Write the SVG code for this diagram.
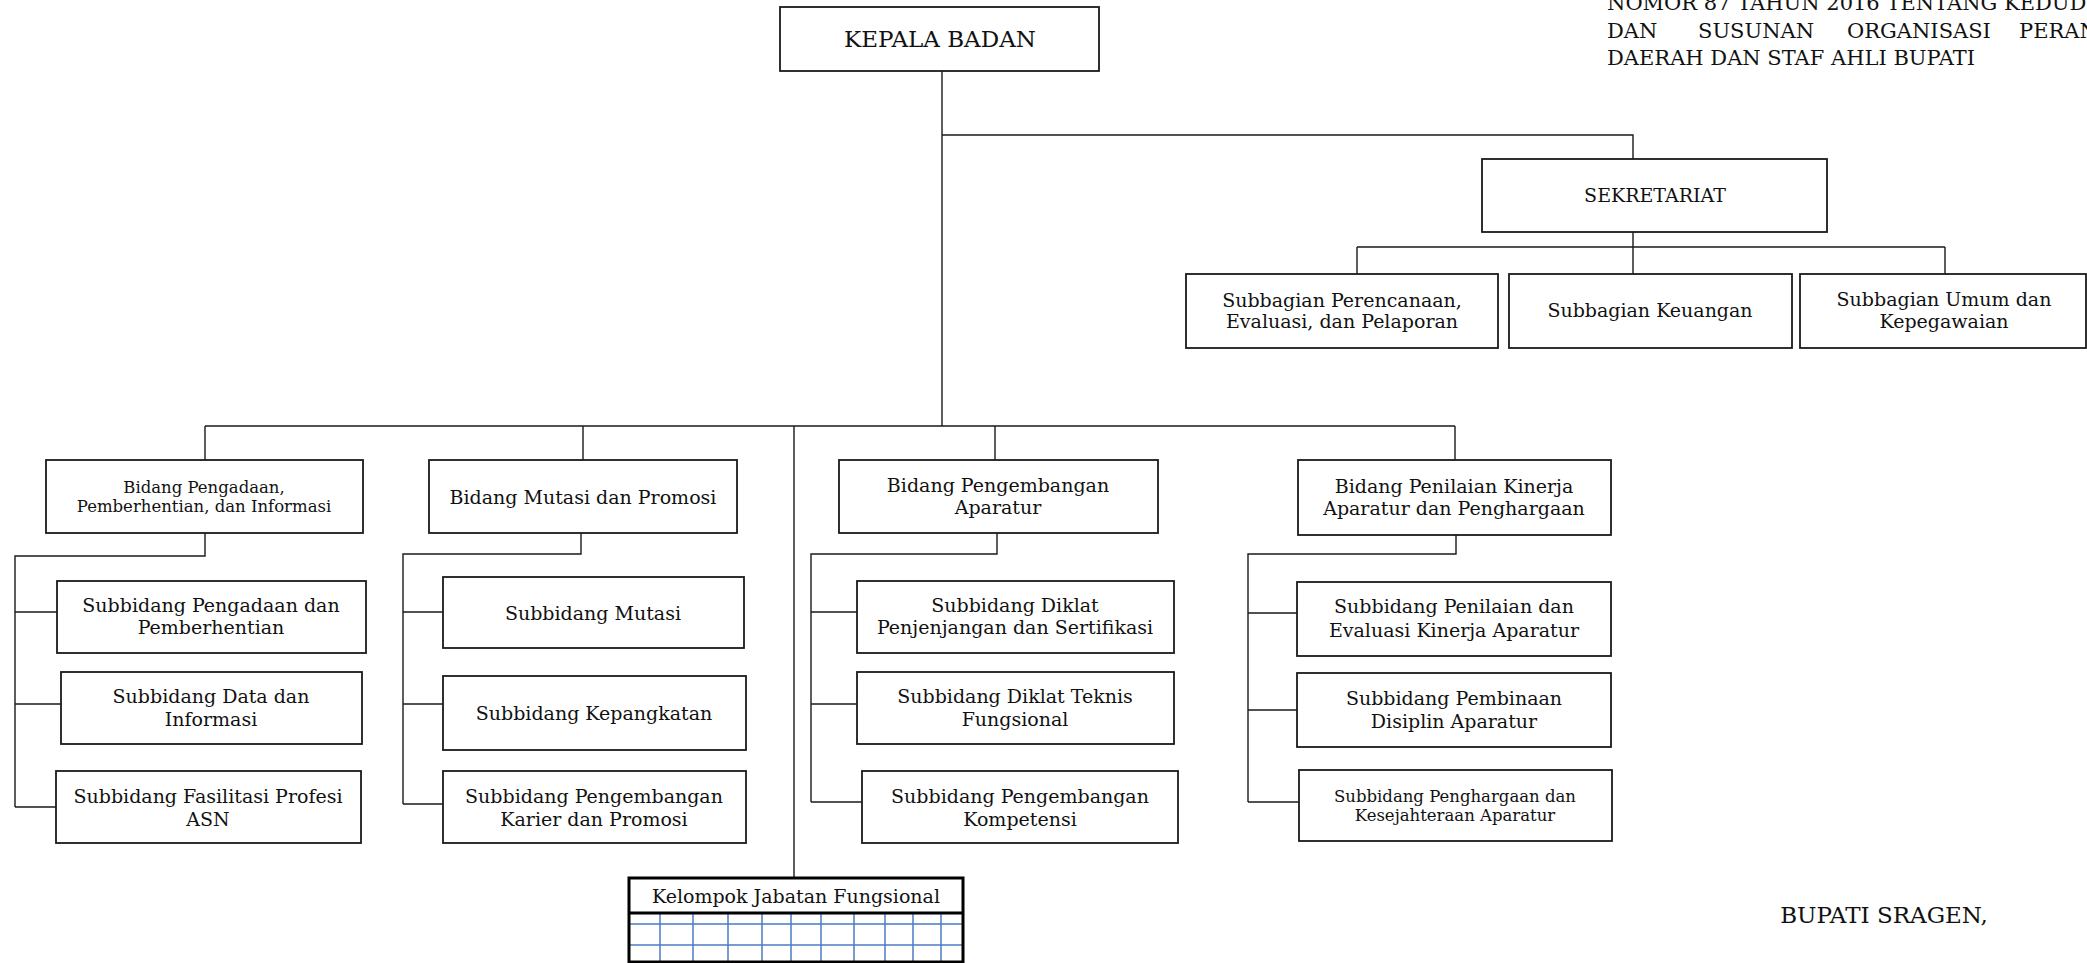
<svg xmlns="http://www.w3.org/2000/svg" width="2087" height="963" viewBox="0 0 2087 963">
<style>
.box{fill:#fff;stroke:#1a1a1a;stroke-width:1.8}
.ln{stroke:#1a1a1a;stroke-width:1.4;fill:none}
.t{font-family:"DejaVu Serif","Liberation Serif",serif;fill:#111;text-anchor:middle}
.s19{font-size:19px}
.s16{font-size:16.5px}
.hdr{font-family:"DejaVu Serif","Liberation Serif",serif;fill:#111;font-size:21px}
.grid{stroke:#4a7cc4;stroke-width:1.5}
.thick{fill:none;stroke:#000;stroke-width:3}
</style>
<rect width="2087" height="963" fill="#fff"/>

<g id="header-text">
<text class="hdr" x="1607" y="10">NOMOR 87 TAHUN 2016 TENTANG KEDUD</text>
<text class="hdr" x="1607" y="38">DAN</text>
<text class="hdr" x="1698" y="38">SUSUNAN</text>
<text class="hdr" x="1847" y="38">ORGANISASI</text>
<text class="hdr" x="2019" y="38">PERAN</text>
<text class="hdr" x="1607" y="65">DAERAH DAN STAF AHLI BUPATI</text>
</g>

<g id="connectors">
<path class="ln" d="M942 71V426M942 135H1633V159M1633 232V274M1357 247H1945M1357 247V274M1945 247V274"/>
<path class="ln" d="M205 426H1455M205 426V460M583 426V460M995 426V460M1455 426V460M794 426V878"/>
<path class="ln" d="M205 533V556H15V807M15 612H57M15 704H61M15 807H56"/>
<path class="ln" d="M581 533V554H403V804M403 612H443M403 704H443M403 804H443"/>
<path class="ln" d="M997 533V554H811V802M811 612H857M811 704H857M811 802H862"/>
<path class="ln" d="M1456 535V554H1248V802M1248 613H1297M1248 710H1297M1248 802H1299"/>
</g>

<g id="kepala">
<rect class="box" x="780" y="7" width="319" height="64"/>
<text class="t" x="940" y="47" font-size="23">KEPALA BADAN</text>
</g>

<g id="sekretariat">
<rect class="box" x="1482" y="159" width="345" height="73"/>
<text class="t" x="1655" y="202" font-size="19">SEKRETARIAT</text>
</g>

<g id="sub-perencanaan">
<rect class="box" x="1186" y="274" width="312" height="74"/>
<text class="t s19" x="1342" y="307">Subbagian Perencanaan,</text>
<text class="t s19" x="1342" y="328">Evaluasi, dan Pelaporan</text>
</g>
<g id="sub-keuangan">
<rect class="box" x="1509" y="274" width="283" height="74"/>
<text class="t s19" x="1650" y="317">Subbagian Keuangan</text>
</g>
<g id="sub-umum">
<rect class="box" x="1800" y="274" width="286" height="74"/>
<text class="t s19" x="1944" y="306">Subbagian Umum dan</text>
<text class="t s19" x="1944" y="328">Kepegawaian</text>
</g>

<g id="bidang-pengadaan">
<rect class="box" x="46" y="460" width="317" height="73"/>
<text class="t s16" x="204" y="493">Bidang Pengadaan,</text>
<text class="t s16" x="204" y="512">Pemberhentian, dan Informasi</text>
</g>
<g id="bidang-mutasi">
<rect class="box" x="429" y="460" width="308" height="73"/>
<text class="t s19" x="583" y="504">Bidang Mutasi dan Promosi</text>
</g>
<g id="bidang-pengembangan">
<rect class="box" x="839" y="460" width="319" height="73"/>
<text class="t s19" x="998" y="492">Bidang Pengembangan</text>
<text class="t s19" x="998" y="514">Aparatur</text>
</g>
<g id="bidang-penilaian">
<rect class="box" x="1298" y="460" width="313" height="75"/>
<text class="t s19" x="1454" y="493">Bidang Penilaian Kinerja</text>
<text class="t s19" x="1454" y="515">Aparatur dan Penghargaan</text>
</g>

<g id="sub-pengadaan">
<rect class="box" x="57" y="581" width="309" height="72"/>
<text class="t s19" x="211" y="612">Subbidang Pengadaan dan</text>
<text class="t s19" x="211" y="634">Pemberhentian</text>
</g>
<g id="sub-data">
<rect class="box" x="61" y="672" width="301" height="72"/>
<text class="t s19" x="211" y="703">Subbidang Data dan</text>
<text class="t s19" x="211" y="726">Informasi</text>
</g>
<g id="sub-fasilitasi">
<rect class="box" x="56" y="771" width="305" height="72"/>
<text class="t s19" x="208" y="803">Subbidang Fasilitasi Profesi</text>
<text class="t s19" x="208" y="826">ASN</text>
</g>

<g id="sub-mutasi">
<rect class="box" x="443" y="577" width="301" height="71"/>
<text class="t s19" x="593" y="620">Subbidang Mutasi</text>
</g>
<g id="sub-kepangkatan">
<rect class="box" x="443" y="676" width="303" height="74"/>
<text class="t s19" x="594" y="720">Subbidang Kepangkatan</text>
</g>
<g id="sub-karier">
<rect class="box" x="443" y="771" width="303" height="72"/>
<text class="t s19" x="594" y="803">Subbidang Pengembangan</text>
<text class="t s19" x="594" y="826">Karier dan Promosi</text>
</g>

<g id="sub-diklat-penjenjangan">
<rect class="box" x="857" y="581" width="317" height="72"/>
<text class="t s19" x="1015" y="612">Subbidang Diklat</text>
<text class="t s19" x="1015" y="634">Penjenjangan dan Sertifikasi</text>
</g>
<g id="sub-diklat-teknis">
<rect class="box" x="857" y="672" width="317" height="72"/>
<text class="t s19" x="1015" y="703">Subbidang Diklat Teknis</text>
<text class="t s19" x="1015" y="726">Fungsional</text>
</g>
<g id="sub-kompetensi">
<rect class="box" x="862" y="771" width="316" height="72"/>
<text class="t s19" x="1020" y="803">Subbidang Pengembangan</text>
<text class="t s19" x="1020" y="826">Kompetensi</text>
</g>

<g id="sub-penilaian">
<rect class="box" x="1297" y="582" width="314" height="74"/>
<text class="t s19" x="1454" y="613">Subbidang Penilaian dan</text>
<text class="t s19" x="1454" y="637">Evaluasi Kinerja Aparatur</text>
</g>
<g id="sub-pembinaan">
<rect class="box" x="1297" y="673" width="314" height="74"/>
<text class="t s19" x="1454" y="705">Subbidang Pembinaan</text>
<text class="t s19" x="1454" y="728">Disiplin Aparatur</text>
</g>
<g id="sub-penghargaan">
<rect class="box" x="1299" y="770" width="313" height="71"/>
<text class="t s16" x="1455" y="802">Subbidang Penghargaan dan</text>
<text class="t s16" x="1455" y="821">Kesejahteraan Aparatur</text>
</g>

<g id="kelompok-jabatan">
<rect x="629" y="878" width="334" height="84" fill="#fff"/>
<path class="grid" d="M629 924H963M629 945H963M660 913V962M693 913V962M728 913V962M762 913V962M791 913V962M821 913V962M854 913V962M885 913V962M913 913V962M941 913V962"/>
<rect class="thick" x="629" y="878" width="334" height="84"/>
<path class="thick" d="M629 913H963"/>
<text class="t s19" x="796" y="903">Kelompok Jabatan Fungsional</text>
</g>

<g id="signature">
<text class="t" x="1884" y="923" font-size="23">BUPATI SRAGEN,</text>
</g>
</svg>
